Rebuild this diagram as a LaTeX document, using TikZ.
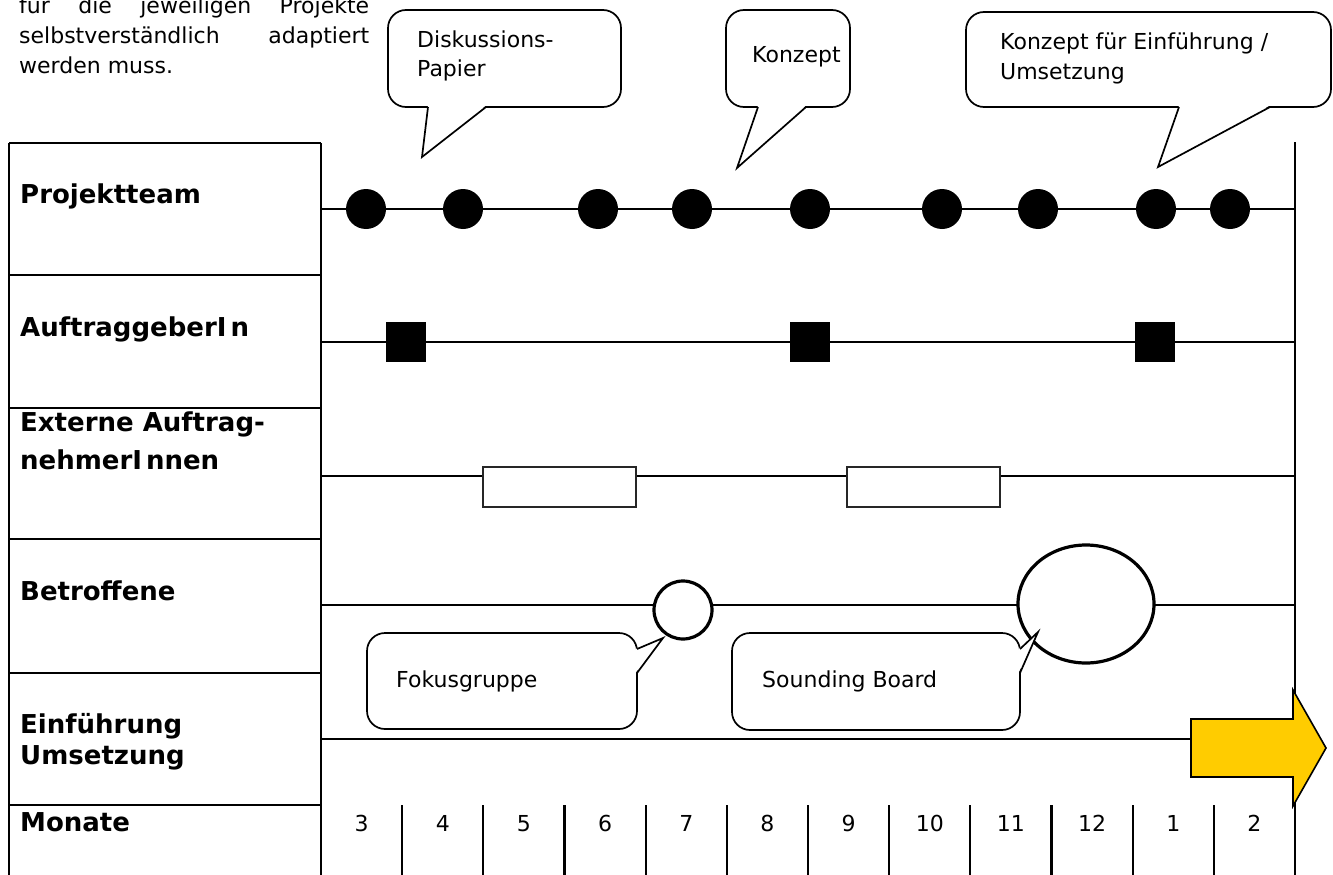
\documentclass[tikz,border=0pt]{standalone}
\usepackage{fontspec}
\setmainfont{DejaVu Sans}
\usetikzlibrary{calc,shapes.geometric}
\definecolor{arrowyellow}{HTML}{FFCC00}
\begin{document}
\begin{tikzpicture}[x=1pt,y=-1pt,
  lbl/.style={font=\fontsize{26}{30}\selectfont\bfseries, anchor=base west, inner sep=0pt},
  txt/.style={font=\fontsize{22}{29}\selectfont, anchor=base west, inner sep=0pt},
  month/.style={font=\fontsize{22}{29}\selectfont, anchor=base, inner sep=0pt},
  frame/.style={line width=2.8pt},
  tick/.style={line width=2.2pt},
  track/.style={line width=2.8pt},
  bubble/.style={draw, line width=1.7pt, rounded corners=18pt, fill=white, inner sep=0pt},
  tail/.style={line width=1.7pt, line join=miter},
  dot/.style={circle, fill=black, minimum size=40pt, inner sep=0pt},
  sq/.style={rectangle, fill=black, minimum size=40pt, inner sep=0pt},
  bar/.style={rectangle, draw=black!85, fill=white, line width=2.2pt, minimum width=153pt, minimum height=40pt, inner sep=0pt},
  ring/.style={draw, fill=white, line width=3.2pt, inner sep=0pt},
]
\useasboundingbox (0,0) rectangle (1333,875);

% paragraph fragment above the table
\node[txt] (p1) at (19,14) {\hbox to 350pt{für\hfill die\hfill jeweiligen\hfill Projekte}};
\node[txt] (p2) at (19,44) {\hbox to 350pt{selbstverständlich\hfill adaptiert}};
\node[txt] (p3) at (19,74) {werden muss.};

% label column
\draw[frame] (9,143) -- (321,143);
\foreach \yy in {275,408,539,673,805} \draw[frame] (9,\yy) -- (321,\yy);
\draw[frame] (9,143) -- (9,875);
\draw[frame] (321,143) -- (321,875);
\draw[frame] (1295,142) -- (1295,875);

\node[lbl] (l1) at (20,203) {Projektteam};
\node[lbl] (l2) at (20,336) {AuftraggeberI\kern4pt n};
\node[lbl] (l3a) at (20,431) {Externe Auftrag-};
\node[lbl] (l3b) at (20,469) {nehmerI\kern4pt nnen};
\node[lbl] (l4) at (20,600) {Betroffene};
\node[lbl] (l5a) at (20,733) {Einführung};
\node[lbl] (l5b) at (20,764) {Umsetzung};
\node[lbl] (l6) at (20,831) {Monate};

% month columns
\foreach \k in {1,...,11} \draw[tick] ({321+81.1667*\k},805) -- ({321+81.1667*\k},875);
\foreach \m [count=\k from 0] in {3,4,5,6,7,8,9,10,11,12,1,2}
  \node[month] (m\k) at ({321+81.1667*(\k+0.5)},831) {\m};

% tracks
\coordinate (t1s) at (321,209);  \coordinate (t1e) at (1295,209);
\coordinate (t2s) at (321,342);  \coordinate (t2e) at (1295,342);
\coordinate (t3s) at (321,476);  \coordinate (t3e) at (1295,476);
\coordinate (t4s) at (321,605);  \coordinate (t4e) at (1295,605);
\coordinate (t5s) at (321,739);  \coordinate (t5e) at (1191,739);
\draw[track] (t1s) -- (t1e);
\draw[track] (t2s) -- (t2e);
\draw[track] (t3s) -- (t3e);
\draw[track] (t4s) -- (t4e);
\draw[track] (t5s) -- (t5e);

% project team meetings
\foreach \xx [count=\i] in {366,463,598,692,810,942,1038,1156,1230}
  \node[dot] (d\i) at (\xx,209) {};

% client meetings
\node[sq] (s1) at (406,342) {};
\node[sq] (s2) at (810,342) {};
\node[sq] (s3) at (1155,342) {};

% external contractors
\node[bar] (r1) at (559.5,487) {};
\node[bar] (r2) at (923.5,487) {};

% stakeholder events
\node[ring, circle, minimum size=58pt] (c1) at (683,610) {};
\node[ring, ellipse, minimum width=136pt, minimum height=118pt] (c2) at (1086,604) {};

% rollout arrow
\draw[line width=1.6pt, fill=arrowyellow, line join=miter]
  (t5e) -- (1191,719) -- (1293,719) -- (1293,690) -- (1326,748)
  -- (1293,806) -- (1293,777) -- (1191,777) -- cycle;

% callouts at the top
\node[bubble, minimum width=233pt, minimum height=97pt] (b1) at (504.5,58.5) {};
\fill[white] (428,105.5) -- (486,105.5) -- (422,157) -- cycle;
\draw[tail] (428,107) -- (422,157) -- (486,107);
\node[txt] (b1a) at (417,48) {Diskussions-};
\node[txt] (b1b) at (417,77) {Papier};

\node[bubble, minimum width=124pt, minimum height=97pt] (b2) at (788,58.5) {};
\fill[white] (758,105.5) -- (806,105.5) -- (737,168) -- cycle;
\draw[tail] (758,107) -- (737,168) -- (806,107);
\node[txt] (b2a) at (752,63) {Konzept};

\node[bubble, minimum width=365pt, minimum height=95pt] (b3) at (1148.5,59.5) {};
\fill[white] (1179,105.5) -- (1270,105.5) -- (1158,167) -- cycle;
\draw[tail] (1179,107) -- (1158,167) -- (1270,107);
\node[txt] (b3a) at (1000,49) {Konzept für Einführung /};
\node[txt] (b3b) at (1000,79) {Umsetzung};

% callouts below the stakeholder track
\node[bubble, minimum width=270pt, minimum height=96pt] (b4) at (502,681) {};
\fill[white] (635.5,649) -- (663,638) -- (635.5,673) -- cycle;
\draw[tail] (637,649) -- (663,638) -- (637,673);
\node[txt] (b4a) at (396,687) {Fokusgruppe};

\node[bubble, minimum width=288pt, minimum height=97pt] (b5) at (876,681.5) {};
\fill[white] (1018.5,649) -- (1038,632) -- (1018.5,673) -- cycle;
\draw[tail] (1020,649) -- (1038,632) -- (1020,673);
\node[txt] (b5a) at (762,687) {Sounding Board};
\end{tikzpicture}
\end{document}
